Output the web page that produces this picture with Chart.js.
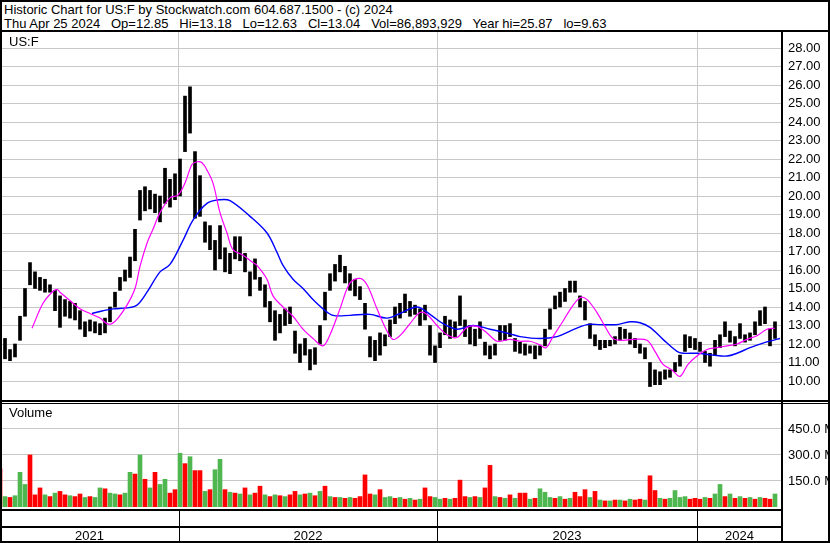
<!DOCTYPE html>
<html>
<head>
<meta charset="utf-8">
<script src="https://cdn.jsdelivr.net/npm/chart.js@4.4.1/dist/chart.umd.min.js"></script>
<style>
  body { margin: 0; background: #fff; }
  #wrap { position: relative; width: 830px; height: 543px; overflow: hidden;
          font-family: "Liberation Sans", Arial, sans-serif; font-size: 13px; color: #000; }
  .ln { position: absolute; background: #000; }
  .txt { position: absolute; white-space: pre; line-height: 14px; }
  .box { position: absolute; left: 0; width: 830px; }
</style>
</head>
<body>
<div id="wrap">
  <div class="box" style="top:32px;height:368px"><canvas id="price"></canvas></div>
  <div class="box" style="top:404px;height:139px"><canvas id="vol"></canvas></div>

  <div class="txt" style="left:4px;top:3px">Historic Chart for US:F by Stockwatch.com 604.687.1500 - (c) 2024</div>
  <div class="txt" style="left:4px;top:17px">Thu Apr 25 2024   Op=12.85   Hi=13.18   Lo=12.63   Cl=13.04   Vol=86,893,929   Year hi=25.87   lo=9.63</div>
  <div class="txt" style="left:9px;top:35px">US:F</div>
  <div class="txt" style="left:9px;top:406px">Volume</div>

  <!-- frame -->
  <div class="ln" style="left:0;top:0;width:830px;height:2px"></div>
  <div class="ln" style="left:0;top:0;width:2px;height:543px"></div>
  <div class="ln" style="left:828px;top:0;width:2px;height:543px"></div>
  <div class="ln" style="left:0;top:541px;width:830px;height:2px"></div>
  <div class="ln" style="left:0;top:30px;width:830px;height:2px"></div>
  <div class="ln" style="left:781px;top:30px;width:2px;height:513px"></div>
  <div class="ln" style="left:0;top:400px;width:830px;height:2px"></div>
  <div class="ln" style="left:0;top:403px;width:830px;height:1px"></div>
</div>

<script>
// weekly bars, week 0 = last week of April 2021, last bar = week of Apr 25 2024
var lows = [
  12.0, 11.2, 11.1, 11.3, 12.2, 13.5, 15.2, 15.0, 14.9, 14.8,
  14.8, 13.8, 12.9, 13.5, 13.4, 13.3, 12.8, 12.4, 12.7, 12.6,
  12.5, 12.6, 13.2, 14.0, 14.9, 15.4, 15.6, 16.5, 18.7, 19.2,
  19.3, 19.1, 18.6, 19.6, 19.4, 19.8, 20.0, 22.4, 23.4, 18.8,
  18.9, 17.5, 17.1, 16.0, 16.6, 15.9, 15.8, 16.6, 16.5, 15.9,
  14.6, 15.5, 14.9, 14.0, 13.2, 12.2, 12.6, 13.0, 13.1, 11.5,
  11.0, 11.4, 10.6, 10.9, 12.0, 13.3, 14.9, 15.4, 15.9, 15.3,
  14.9, 14.6, 14.4, 12.8, 11.3, 11.1, 11.4, 11.9, 12.4, 13.1,
  13.4, 13.7, 13.5, 13.6, 13.0, 13.3, 11.4, 11.0, 11.8, 12.5,
  12.3, 12.4, 13.0, 12.4, 12.0, 11.9, 12.3, 11.4, 11.2, 11.4,
  12.2, 12.2, 12.4, 11.6, 11.5, 11.4, 11.5, 11.2, 11.4, 11.9,
  12.8, 13.9, 14.0, 14.3, 14.8, 14.8, 14.0, 13.3, 12.3, 11.9,
  11.7, 11.8, 11.9, 12.0, 12.2, 12.3, 12.0, 11.8, 11.5, 11.2,
  9.7, 9.8, 9.8, 10.1, 10.2, 10.5, 10.8, 11.6, 11.8, 11.7,
  11.6, 11.0, 10.8, 11.4, 11.8, 12.4, 12.1, 11.9, 12.3, 12.1,
  12.2, 12.5, 13.0, 13.1, 11.9, 12.3
];
var highs = [
  12.8, 12.3, 11.7, 12.0, 13.5, 15.0, 16.4, 15.9, 15.6, 15.5,
  15.2, 14.9, 14.6, 14.4, 14.3, 14.2, 13.8, 13.2, 13.3, 13.2,
  13.1, 13.4, 14.0, 14.8, 15.6, 16.0, 16.7, 18.2, 20.3, 20.5,
  20.3, 20.1, 20.0, 21.5, 20.9, 21.2, 22.0, 25.4, 25.9, 22.4,
  21.1, 18.6, 18.4, 17.6, 18.4, 17.2, 16.9, 17.8, 17.8, 16.9,
  15.9, 16.6, 15.6, 15.2, 14.3, 13.8, 13.6, 13.9, 14.0, 12.7,
  12.0, 12.3, 11.7, 11.8, 13.0, 14.8, 15.8, 16.3, 16.8, 16.2,
  15.8, 15.5, 15.1, 14.2, 12.4, 12.2, 12.6, 12.5, 13.3, 14.0,
  14.2, 14.7, 14.3, 14.1, 13.9, 14.1, 13.0, 11.9, 12.6, 13.5,
  13.3, 13.2, 14.6, 13.3, 13.0, 12.8, 13.2, 12.1, 11.9, 12.0,
  13.0, 13.0, 13.1, 12.3, 12.1, 12.0, 11.9, 11.9, 11.9, 12.8,
  13.9, 14.6, 14.8, 15.0, 15.4, 15.4, 14.6, 14.3, 13.1, 12.5,
  12.2, 12.2, 12.2, 12.4, 12.9, 12.8, 12.6, 12.3, 12.0, 11.8,
  11.0, 10.6, 10.5, 10.6, 10.6, 11.0, 11.4, 12.5, 12.4, 12.3,
  12.1, 11.6, 11.5, 12.2, 12.5, 13.2, 12.7, 12.4, 13.1, 12.5,
  12.6, 13.2, 13.8, 14.0, 12.8, 13.2
];
// volume in millions, 1 = up week (green), 0 = down week (red)
var volumes = [
  220, 60, 55, 65, 200, 130, 300, 70, 110, 70,
  60, 80, 90, 70, 65, 60, 75, 55, 60, 55,
  110, 105, 80, 75, 70, 80, 200, 190, 300, 160,
  110, 200, 130, 160, 80, 100, 310, 250, 290, 210,
  210, 90, 100, 215, 275, 100, 85, 80, 75, 110,
  70, 80, 120, 70, 60, 70, 65, 60, 70, 90,
  70, 75, 80, 65, 90, 120, 60, 55, 55, 50,
  55, 50, 60, 185, 75, 70, 100, 55, 60, 50,
  55, 45, 50, 40, 45, 110, 60, 55, 45, 50,
  45, 50, 155, 60, 55, 60, 55, 110, 240, 60,
  55, 50, 70, 50, 80, 80, 45, 50, 105, 85,
  55, 50, 60, 45, 50, 85, 60, 100, 55, 90,
  40, 35, 35, 40, 40, 35, 45, 40, 45, 40,
  180, 95, 50, 45, 50, 95, 55, 60, 45, 50,
  45, 55, 50, 75, 130, 60, 75, 50, 60, 50,
  55, 45, 55, 50, 45, 75
];
var volUp = [
  0,1,0,1,1,1,0,0,0,1, 0,1,0,0,1,0,0,1,0,1,
  1,0,1,1,0,1,1,0,1,0, 1,0,1,1,0,0,1,0,1,0,
  0,1,0,1,1,0,1,0,1,0, 1,0,0,1,0,1,0,1,0,0,
  1,0,1,0,1,0,1,0,1,0, 1,0,0,0,0,1,0,1,1,0,
  1,0,1,0,1,0,0,1,1,0, 1,0,0,0,1,0,1,0,0,1,
  0,1,0,1,0,0,1,0,1,1, 1,0,1,0,1,0,0,0,1,0,
  1,0,1,0,1,0,1,0,0,1, 0,0,1,0,1,1,1,1,0,0,
  0,1,0,1,1,0,1,0,1,0, 1,0,1,0,0,1
];

// moving averages (week position, value)
var ma50Week = [6.4, 8.6, 10.4, 11.4, 12, 14, 16, 18, 20, 21.4, 22.4, 23.6, 25.4, 27, 28, 29.4, 30.6, 32, 34, 35.6,
  37, 38.4, 39.4, 40.4, 41.4, 42.6, 44, 45.4, 46.6, 48.6, 50.6, 51.4, 53.4, 54.6, 56.6, 58.6, 60.6, 62.6, 64.6, 66,
  68, 70, 72, 73.4, 75.4, 77.4, 78.6, 80, 82, 84, 85.4, 87.4, 89.4, 91.4, 93.4, 95.4, 97.4, 99.4, 102, 104,
  106, 108, 109.2, 110.6, 112.4, 114, 116, 117.4, 119.4, 121, 122.6, 124.6, 126.6, 129.4, 131, 132.6, 134.4, 136, 137.6, 139.4,
  141.4, 143.4, 145.4, 147.4, 149.4, 151.4, 153.4, 155];
var ma50 = [12.85, 14.2, 14.8, 14.95, 14.8, 14.35, 13.9, 13.65, 13.4, 13.1, 13.1, 13.4, 14.1, 15.0, 16.2, 17.45, 18.2, 19.1, 19.9, 20.05,
  20.7, 21.7, 21.85, 21.8, 21.4, 20.7, 19.1, 18.0, 17.1, 16.8, 16.4, 16.25, 15.5, 14.6, 14.0, 13.5, 12.8, 12.3, 11.9, 12.5,
  13.9, 15.3, 15.55, 15.2, 13.9, 12.7, 12.25, 12.45, 13.1, 13.7, 13.6, 13.0, 12.5, 12.35, 12.9, 12.95, 12.6, 12.15, 12.25, 12.15,
  12.15, 11.95, 11.8, 12.4, 13.15, 13.85, 14.5, 14.4, 13.7, 12.95, 12.3, 12.2, 12.25, 12.2, 11.6, 10.9, 10.6, 10.25, 10.9, 11.35,
  11.7, 11.8, 11.9, 12.0, 12.25, 12.45, 12.8, 12.85];
var ma200Week = [18.4, 20.6, 22.6, 25.4, 27.4, 29.4, 32, 34, 36.6, 38.6, 41.4, 44, 46, 50, 53.4, 55.4, 56.6, 58.6, 60.6, 62.6,
  64.6, 66.6, 70, 74, 77.4, 80, 83.4, 86, 88.6, 91.4, 94.6, 98, 102, 104, 108, 111.4, 114, 117.4, 120, 123.4,
  126, 128, 130, 132.6, 135.4, 136.6, 139.4, 142.6, 145.4, 147.4, 150, 152.6, 154.6, 156];
var ma200 = [13.65, 13.8, 13.9, 13.95, 14.1, 14.8, 15.9, 16.3, 17.6, 18.7, 19.6, 19.8, 19.75, 18.9, 18.0, 16.95, 16.25, 15.5, 15.0, 14.4,
  13.9, 13.55, 13.55, 13.6, 13.4, 13.65, 14.0, 13.6, 13.1, 12.8, 13.0, 12.8, 12.55, 12.4, 12.3, 12.4, 12.7, 13.05, 13.05, 13.05,
  13.2, 13.15, 12.9, 12.25, 11.6, 11.5, 11.5, 11.4, 11.35, 11.5, 11.8, 12.05, 12.2, 12.3];

var priceTicks = [10, 11, 12, 13, 14, 15, 16, 17, 18, 19, 20, 21, 22, 23, 24, 25, 26, 27, 28];
var volTicks = [150, 300, 450];
var yearLabels = ['2021', '2022', '2023', '2024'];
var yearStartWeek = [35.8, 87.4, 139.4];   // first trading week of 2022, 2023, 2024

var FONT = '"Liberation Sans", Arial, sans-serif';
var GRID = '#c8c8c8';

function xScale() {
  return {
    type: 'linear', min: 0, max: 156.4, offset: false,
    grid: { color: GRID, drawTicks: false, offset: false },
    border: { display: false },
    ticks: { display: false },
    afterBuildTicks: function (s) { s.ticks = yearStartWeek.map(function (v) { return { value: v }; }); },
    afterFit: function (s) { s.height = 0; s.paddingLeft = 0; s.paddingRight = 0; }
  };
}

function yScale(min, max, values, fmt) {
  return {
    position: 'right', min: min, max: max,
    grid: { color: GRID, drawTicks: false },
    border: { display: false },
    afterBuildTicks: function (s) { s.ticks = values.map(function (v) { return { value: v }; }); },
    ticks: { color: '#000', padding: 6, autoSkip: false, font: { family: FONT, size: 13 }, callback: fmt },
    afterFit: function (s) { s.width = 48; s.paddingTop = 0; s.paddingBottom = 0; }
  };
}

// price pane
new Chart(document.getElementById('price'), {
  type: 'bar',
  data: {
    datasets: [
      {
        type: 'line', order: 0,
        data: ma50Week.map(function (w, i) { return { x: w, y: ma50[i] }; }),
        borderColor: '#ff00ff', borderWidth: 1.2, pointRadius: 0, tension: 0.35
      },
      {
        type: 'line', order: 0,
        data: ma200Week.map(function (w, i) { return { x: w, y: ma200[i] }; }),
        borderColor: '#0000ff', borderWidth: 1.4, pointRadius: 0, tension: 0.35
      },
      {
        type: 'bar', order: 1,
        data: lows.map(function (l, i) { return { x: i, y: [l, highs[i]] }; }),
        backgroundColor: '#000', barThickness: 3
      }
    ]
  },
  options: {
    responsive: true, maintainAspectRatio: false, animation: false,
    layout: { padding: 0 },
    plugins: { legend: { display: false }, tooltip: { enabled: false } },
    scales: {
      x: xScale(),
      y: yScale(8.973, 28.865, priceTicks, function (v) { return v.toFixed(2); })
    }
  }
});

// year strip under the volume pane
var yearStrip = {
  id: 'yearStrip',
  afterDraw: function (chart) {
    var ctx = chart.ctx, a = chart.chartArea, x = chart.scales.x;
    ctx.save();
    ctx.fillStyle = '#000';
    ctx.fillRect(0, a.bottom + 2, a.right, 2);
    ctx.fillRect(0, a.bottom + 19, a.right, 2);
    var xs = yearStartWeek.map(function (v) { return Math.round(x.getPixelForValue(v)); });
    xs.forEach(function (px) { ctx.fillRect(px, a.bottom + 2, 1, 40); });
    var edges = [a.left].concat(xs, [a.right]);
    ctx.font = '13px ' + FONT;
    ctx.textAlign = 'center';
    ctx.textBaseline = 'alphabetic';
    yearLabels.forEach(function (t, j) { ctx.fillText(t, (edges[j] + edges[j + 1]) / 2, a.bottom + 33); });
    ctx.restore();
  }
};

// volume pane
new Chart(document.getElementById('vol'), {
  type: 'bar',
  data: {
    datasets: [{
      data: volumes.map(function (v, i) { return { x: i, y: v }; }),
      backgroundColor: volUp.map(function (u) { return u ? '#4fb74f' : '#ff0000'; }),
      barThickness: 4
    }]
  },
  options: {
    responsive: true, maintainAspectRatio: false, animation: false,
    layout: { padding: { bottom: 36 } },
    plugins: { legend: { display: false }, tooltip: { enabled: false } },
    scales: {
      x: xScale(),
      y: yScale(0, 594, volTicks, function (v) { return v.toFixed(1) + ' M'; })
    }
  },
  plugins: [yearStrip]
});
</script>
</body>
</html>
